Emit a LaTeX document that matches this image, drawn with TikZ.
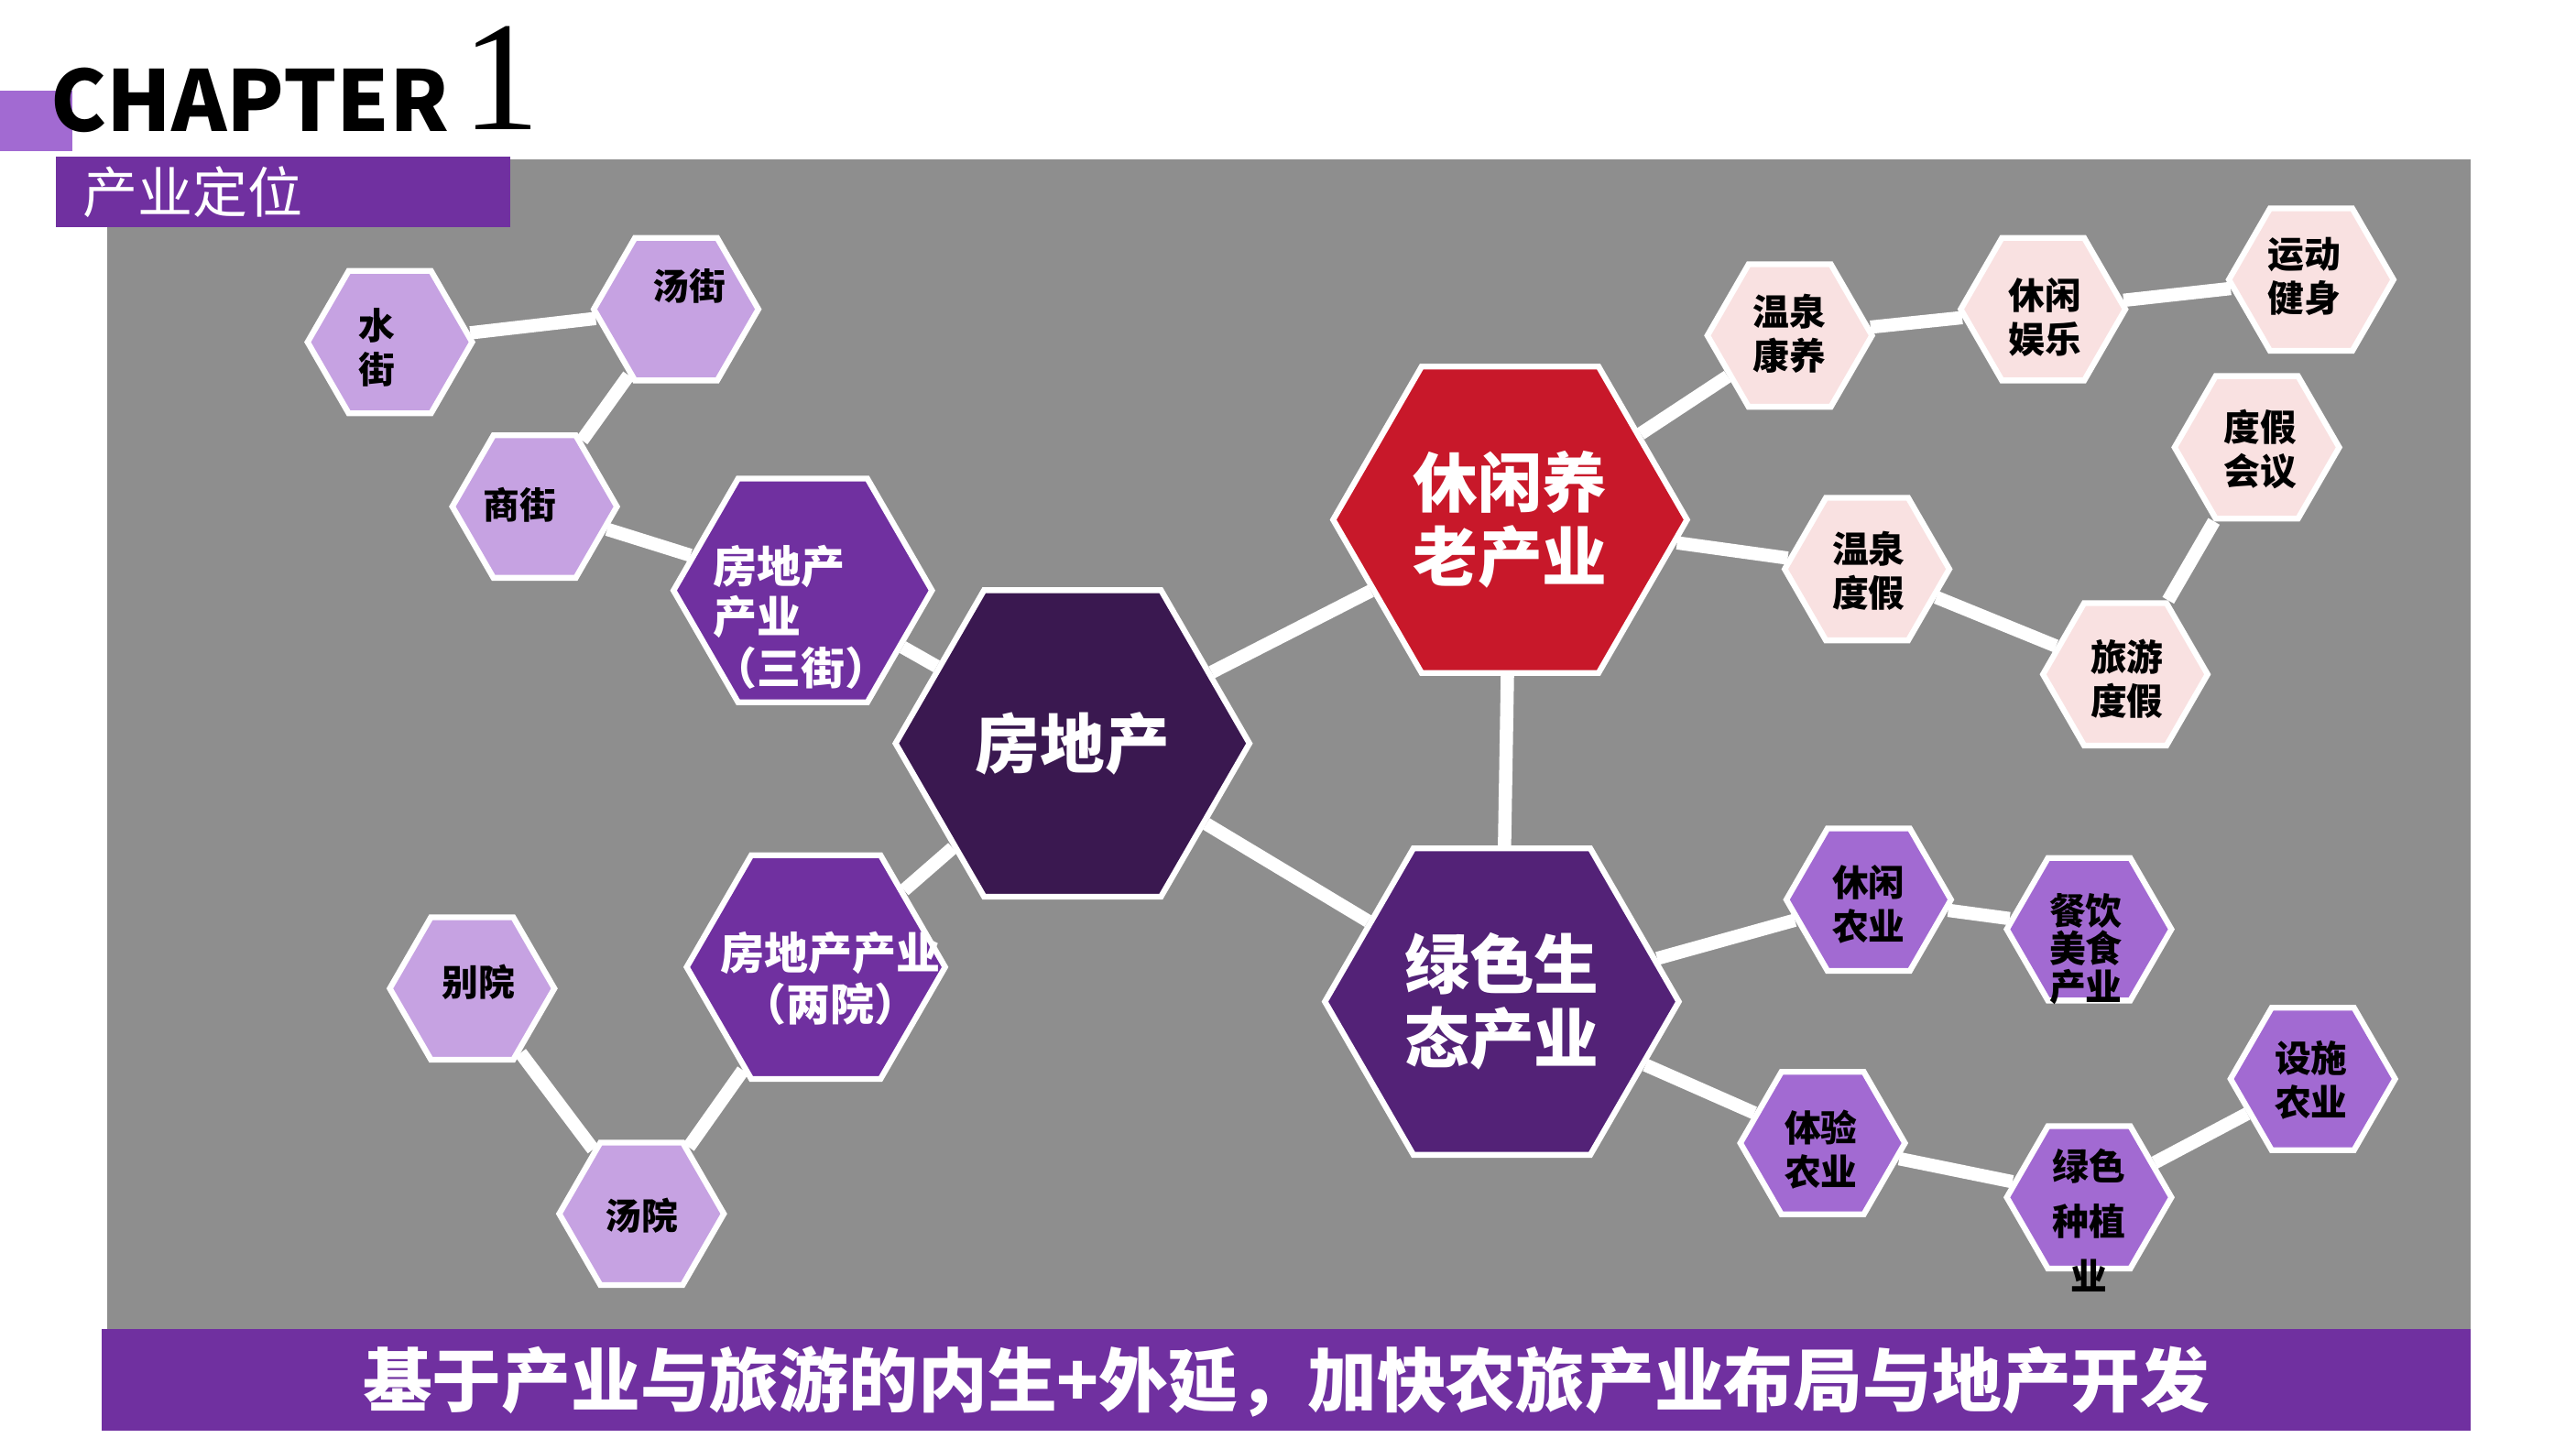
\documentclass[tikz,border=0pt]{standalone}
\usepackage{fontspec}
\setmainfont{Noto Sans CJK SC}
\newfontfamily\numfont{Liberation Serif}
\usetikzlibrary{shapes.geometric}
\pgfdeclarelayer{back}
\pgfdeclarelayer{bg}
\pgfsetlayers{back,bg,main}
\definecolor{pinkhex}{HTML}{F9E1E1}
\definecolor{lavhex}{HTML}{C6A2E2}
\definecolor{midhex}{HTML}{A26AD2}
\definecolor{darkhex}{HTML}{7030A0}
\definecolor{corehex}{HTML}{3A1850}
\definecolor{redhex}{HTML}{C8182A}
\definecolor{ecohex}{HTML}{532277}
\definecolor{panel}{HTML}{8E8E8E}
\tikzset{
  hex/.style={regular polygon,regular polygon sides=6,draw=white,line width=1pt,inner sep=0pt},
  small/.style={hex,minimum size=1cm},
  mid/.style={hex,minimum size=1.57cm,fill=darkhex},
  big/.style={hex,minimum size=2.15cm},
  tsmall/.style={align=center,inner sep=0pt,font=\bfseries\fontsize{6.3}{7.6}\selectfont},
  tmid/.style={align=center,inner sep=0pt,text=white,font=\bfseries\fontsize{7.6}{8.8}\selectfont},
  tbig/.style={align=center,inner sep=0pt,text=white,font=\bfseries\fontsize{11.2}{12.8}\selectfont},
  link/.style={white,line width=2.3pt}
}
\begin{document}
\begin{tikzpicture}[x=0.01cm,y=-0.01cm]
	\useasboundingbox (0,0) rectangle (1566,881);
	\begin{pgfonlayer}{back}
	\fill[white] (0,0) rectangle (1566,881);
	\fill[panel] (65,97) rectangle (1502,808);
	\end{pgfonlayer}
	\fill[midhex] (0,55) rectangle (44,92);
	\node[anchor=base west,inner sep=0pt,font=\bfseries\fontsize{14.5}{15}\selectfont] (chap) at (30,80) {CHAPTER};
	\node[anchor=base west,inner sep=0pt,font=\numfont\fontsize{27}{27}\selectfont] (num) at (280,79) {1};
	\fill[darkhex] (34,95) rectangle (310,138);
	\node[anchor=west,text=white,font=\fontsize{9.5}{10}\selectfont] (tag) at (38,117) {产业定位};
	% banner
	\fill[darkhex] (62,808) rectangle (1502,870);
	\node[text=white,font=\bfseries\fontsize{12}{13}\selectfont] (slogan) at (782,840) {基于产业与旅游的内生+外延，加快农旅产业布局与地产开发};

	% core
	\node[big,fill=corehex] (fdc) at (652,452) {};
	\node[tbig] at (fdc) {房地产};
	\node[big,fill=redhex] (xxyl) at (918,316) {};
	\node[tbig] at (xxyl) {休闲养\\老产业};
	\node[big,fill=ecohex] (lsst) at (913,609) {};
	\node[tbig] at (lsst) {绿色生\\态产业};
	\node[mid] (sanjie) at (488,359) {};
	\node[tmid,align=left] at (487,375) {房地产\\产业\\（三街）};
	\node[mid] (liangyuan) at (496,588) {};
	\node[tmid] at (505,595) {房地产产业\\（两院）};

	% left
	\node[small,fill=lavhex] (shuijie) at (237,208) {};
	\node[tsmall] at (229,211) {水\\街};
	\node[small,fill=lavhex] (tangjie) at (411,188) {};
	\node[tsmall] at (419,174) {汤街};
	\node[small,fill=lavhex] (shangjie) at (325,308) {};
	\node[tsmall] at (316,307) {商街};
	\node[small,fill=lavhex] (bieyuan) at (287,601) {};
	\node[tsmall] at (291,597) {别院};
	\node[small,fill=lavhex] (tangyuan) at (390,738) {};
	\node[tsmall] at (390,739) {汤院};

	% right top
	\node[small,fill=pinkhex] (wqky) at (1088,204) {};
	\node[tsmall] at (1088,203) {温泉\\康养};
	\node[small,fill=pinkhex] (xxyy) at (1242,188) {};
	\node[tsmall] at (1243,193) {休闲\\娱乐};
	\node[small,fill=pinkhex] (ydjs) at (1405,170) {};
	\node[tsmall] at (1401,168) {运动\\健身};
	\node[small,fill=pinkhex] (djhy) at (1372,272) {};
	\node[tsmall] at (1374,273) {度假\\会议};
	\node[small,fill=pinkhex] (wqdj) at (1135,346) {};
	\node[tsmall] at (1136,347) {温泉\\度假};
	\node[small,fill=pinkhex] (lydj) at (1292,410) {};
	\node[tsmall] at (1293,413) {旅游\\度假};

	% right bottom
	\node[small,fill=midhex] (xxny) at (1136,547) {};
	\node[tsmall] at (1136,550) {休闲\\农业};
	\node[small,fill=midhex] (cyms) at (1270,565) {};
	\node[tsmall,font=\bfseries\fontsize{6.3}{6.6}\selectfont] at (1268,577) {餐饮\\美食\\产业};
	\node[small,fill=midhex] (tyny) at (1108,695) {};
	\node[tsmall] at (1107,699) {体验\\农业};
	\node[small,fill=midhex] (lszz) at (1270,728) {};
	\node[tsmall,font=\bfseries\fontsize{6.3}{9.5}\selectfont] at (1270,742) {绿色\\种植\\业};
	\node[small,fill=midhex] (ssny) at (1406,656) {};
	\node[tsmall] at (1405,657) {设施\\农业};

	\begin{pgfonlayer}{bg}
	\draw[link] (shuijie) -- (tangjie);
	\draw[link] (tangjie) -- (shangjie);
	\draw[link] (shangjie) -- (sanjie);
	\draw[link] (sanjie) -- (fdc);
	\draw[link] (fdc) -- (liangyuan);
	\draw[link] (liangyuan) -- (tangyuan);
	\draw[link] (tangyuan) -- (bieyuan);
	\draw[link] (fdc) -- (xxyl);
	\draw[link] (fdc) -- (lsst);
	\draw[link] (xxyl) -- (lsst);
	\draw[link] (xxyl) -- (wqky);
	\draw[link] (wqky) -- (xxyy);
	\draw[link] (xxyy) -- (ydjs);
	\draw[link] (xxyl) -- (wqdj);
	\draw[link] (wqdj) -- (lydj);
	\draw[link] (lydj) -- (djhy);
	\draw[link] (lsst) -- (xxny);
	\draw[link] (xxny) -- (cyms);
	\draw[link] (lsst) -- (tyny);
	\draw[link] (tyny) -- (lszz);
	\draw[link] (lszz) -- (ssny);
	\end{pgfonlayer}
\end{tikzpicture}
\end{document}
